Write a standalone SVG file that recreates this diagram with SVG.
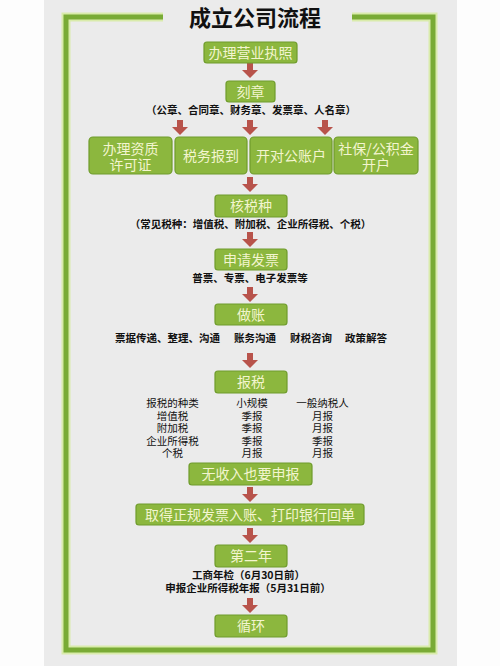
<svg xmlns="http://www.w3.org/2000/svg" width="500" height="666" viewBox="0 0 500 666">
<defs>
<style>
.box{fill:#8cb73e;stroke:#6f9c2c;stroke-width:1.2}
.bt{font-family:"Noto Sans CJK SC","Noto Sans",sans-serif;fill:#f3f5cf;font-size:14px;text-anchor:middle}
.lb{font-family:"Noto Sans CJK SC","Liberation Sans",sans-serif;fill:#111;font-size:10.5px;font-weight:bold;text-anchor:middle}
.tb{font-family:"Noto Sans CJK SC","Liberation Sans",sans-serif;fill:#111;font-size:10.5px;text-anchor:middle}
.arr{fill:#b8534b}
</style>
<path id="ah" d="M-3,0 H3 V7 H8 L0,15 L-8,7 H-3 Z"/>
</defs>
<rect x="0" y="0" width="500" height="666" fill="#fdfdfd"/>
<rect x="44" y="0" width="413" height="666" fill="#ebebeb"/>
<path d="M163,17 H66 V650 H433 V17 H352" fill="none" stroke="#d9ebab" stroke-width="9"/>
<path d="M163,17 H66 V650 H433 V17 H352" fill="none" stroke="#79ab35" stroke-width="5"/>
<text x="255" y="26" font-family="Noto Sans CJK SC,sans-serif" font-size="22" font-weight="bold" text-anchor="middle" fill="#111">成立公司流程</text>

<g id="connectors" class="arr">
<use href="#ah" x="250" y="63"/>
<use href="#ah" x="180" y="120"/>
<use href="#ah" x="250" y="120"/>
<use href="#ah" x="325" y="120"/>
<use href="#ah" x="250" y="177"/>
<use href="#ah" x="250" y="232"/>
<use href="#ah" x="250" y="287"/>
<use href="#ah" x="250" y="353"/>
<use href="#ah" x="250" y="487"/>
<use href="#ah" x="250" y="528"/>
<use href="#ah" x="250" y="598"/>
</g>

<g id="n1"><rect class="box" x="204" y="42" width="93" height="21" rx="3"/><text class="bt" x="250.5" y="57.5">办理营业执照</text></g>
<g id="n2"><rect class="box" x="226" y="81" width="49" height="21" rx="3"/><text class="bt" x="250.5" y="96.5">刻章</text></g>
<text class="lb" x="251" y="114">（公章、合同章、财务章、发票章、人名章）</text>

<g id="n3"><rect class="box" x="89" y="137" width="83" height="37" rx="4"/><text class="bt" x="130.5" y="154">办理资质</text><text class="bt" x="130.5" y="170">许可证</text></g>
<g id="n4"><rect class="box" x="175" y="137" width="72" height="37" rx="4"/><text class="bt" x="211" y="161" font-size="15">税务报到</text></g>
<g id="n5"><rect class="box" x="250" y="137" width="82" height="37" rx="4"/><text class="bt" x="291" y="161" font-size="15">开对公账户</text></g>
<g id="n6"><rect class="box" x="334" y="137" width="84" height="37" rx="4"/><text class="bt" x="376" y="154">社保/公积金</text><text class="bt" x="376" y="170">开户</text></g>

<g id="n7"><rect class="box" x="215" y="195" width="72" height="22" rx="3"/><text class="bt" x="251" y="211">核税种</text></g>
<text class="lb" x="250.5" y="228" font-size="10.7">（常见税种：增值税、附加税、企业所得税、个税）</text>

<g id="n8"><rect class="box" x="215" y="249" width="72" height="21" rx="3"/><text class="bt" x="251" y="264.5">申请发票</text></g>
<text class="lb" x="250" y="282" font-size="11">普票、专票、电子发票等</text>

<g id="n9"><rect class="box" x="215" y="304" width="72" height="21" rx="3"/><text class="bt" x="251" y="319.5">做账</text></g>
<g class="lb" font-size="11">
<text x="167.5" y="342">票据传递、整理、沟通</text>
<text x="255" y="342">账务沟通</text>
<text x="311" y="342">财税咨询</text>
<text x="366" y="342">政策解答</text>
</g>

<g id="n10"><rect class="box" x="215" y="371" width="72" height="22" rx="3"/><text class="bt" x="251" y="387">报税</text></g>
<g class="tb">
<text x="172.5" y="407">报税的种类</text><text x="252" y="407">小规模</text><text x="322.5" y="407">一般纳税人</text>
<text x="172.5" y="419.5">增值税</text><text x="252" y="419.5">季报</text><text x="322.5" y="419.5">月报</text>
<text x="172.5" y="432">附加税</text><text x="252" y="432">季报</text><text x="322.5" y="432">月报</text>
<text x="172.5" y="444.5">企业所得税</text><text x="252" y="444.5">季报</text><text x="322.5" y="444.5">季报</text>
<text x="172.5" y="457">个税</text><text x="252" y="457">月报</text><text x="322.5" y="457">月报</text>
</g>

<g id="n11"><rect class="box" x="189" y="463" width="123" height="22" rx="3"/><text class="bt" x="250.5" y="479">无收入也要申报</text></g>
<g id="n12"><rect class="box" x="136" y="504" width="228" height="21" rx="3"/><text class="bt" x="250" y="519.5">取得正规发票入账、打印银行回单</text></g>
<g id="n13"><rect class="box" x="215" y="545" width="72" height="22" rx="3"/><text class="bt" x="251" y="561">第二年</text></g>
<text class="lb" x="248.5" y="579" font-size="11">工商年检（6月30日前）</text>
<text class="lb" x="248" y="592" font-size="11">申报企业所得税年报（5月31日前）</text>
<g id="n14"><rect class="box" x="215" y="615" width="72" height="22" rx="3"/><text class="bt" x="251" y="631">循环</text></g>
</svg>
